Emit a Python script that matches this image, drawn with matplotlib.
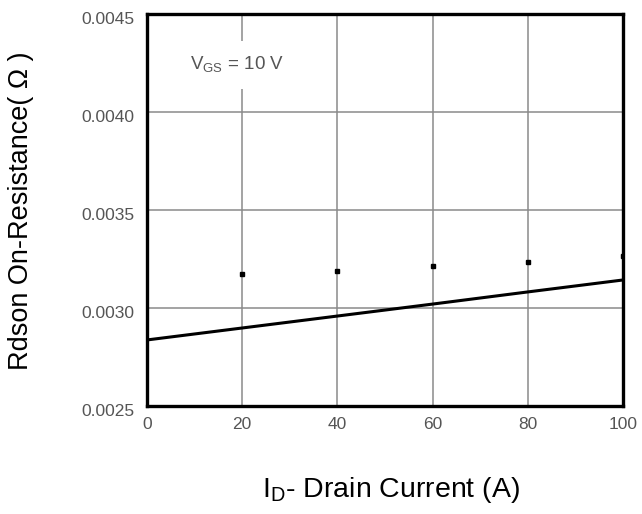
import numpy as np
import matplotlib
matplotlib.use("Agg")
import matplotlib.pyplot as plt
from matplotlib.transforms import ScaledTranslation

plt.rcParams['font.family'] = ['Liberation Sans', 'DejaVu Sans']
plt.rcParams['mathtext.fontset'] = 'custom'
plt.rcParams['mathtext.rm'] = 'Liberation Sans'

# Rdson vs drain current
current_line = [0, 20, 40, 60, 80, 100]
rdson_line = [0.002837, 0.002898, 0.002959, 0.003020, 0.003082, 0.003143]

# stray dots above the curve
current_dots = [20, 40, 60, 80, 100]
rdson_dots = [0.003173, 0.003189, 0.003214, 0.003235, 0.003265]

x_ticks = [0, 20, 40, 60, 80, 100]
y_ticks = [0.0025, 0.0030, 0.0035, 0.0040, 0.0045]
y_tick_labels = ["0.0025", "0.0030", "0.0035", "0.0040", "0.0045"]

fig = plt.figure(figsize=(6.42, 5.14), dpi=100)
ax = fig.add_axes([147 / 642, 1 - 406 / 514, 476 / 642, 392 / 514])

ax.plot(current_line, rdson_line, color="black", linewidth=2.2, zorder=3)
ax.plot(current_dots, rdson_dots, linestyle="none", marker="s",
        markersize=2.6, color="black", zorder=3)

ax.set_xlim(0, 100)
ax.set_ylim(0.0025, 0.0045)
ax.set_xticks(x_ticks)
ax.set_yticks(y_ticks)
ax.set_yticklabels(y_tick_labels)
ax.tick_params(length=0, labelsize=12.5, labelcolor="#555555", pad=9)
ax.tick_params(axis="x", pad=8)

ax.grid(True, color="#8a8a8a", linewidth=1.1)
ax.set_axisbelow(True)
for sp in ax.spines.values():
    sp.set_linewidth(2.4)
    sp.set_color("black")

# shift y tick labels slightly down like the scan
off = ScaledTranslation(0, -4 / 100, fig.dpi_scale_trans)
for lab in ax.get_yticklabels():
    lab.set_transform(lab.get_transform() + off)

ax.text(9, 0.00424, r"V$_\mathregular{GS}$ = 10 V", fontsize=13.5,
        color="#555555", va="center", ha="left", zorder=2,
        bbox=dict(facecolor="white", edgecolor="none", pad=10))

fig.text(21 / 642, 1 - 211 / 514, "Rdson On-Resistance( Ω )", rotation=90,
         fontsize=19.5, ha="center", va="center")
fig.text(391 / 642, 1 - 490 / 514, r"I$_\mathregular{D}$- Drain Current (A)",
         fontsize=20.5, ha="center", va="center")

fig.savefig("out.png", dpi=100)
